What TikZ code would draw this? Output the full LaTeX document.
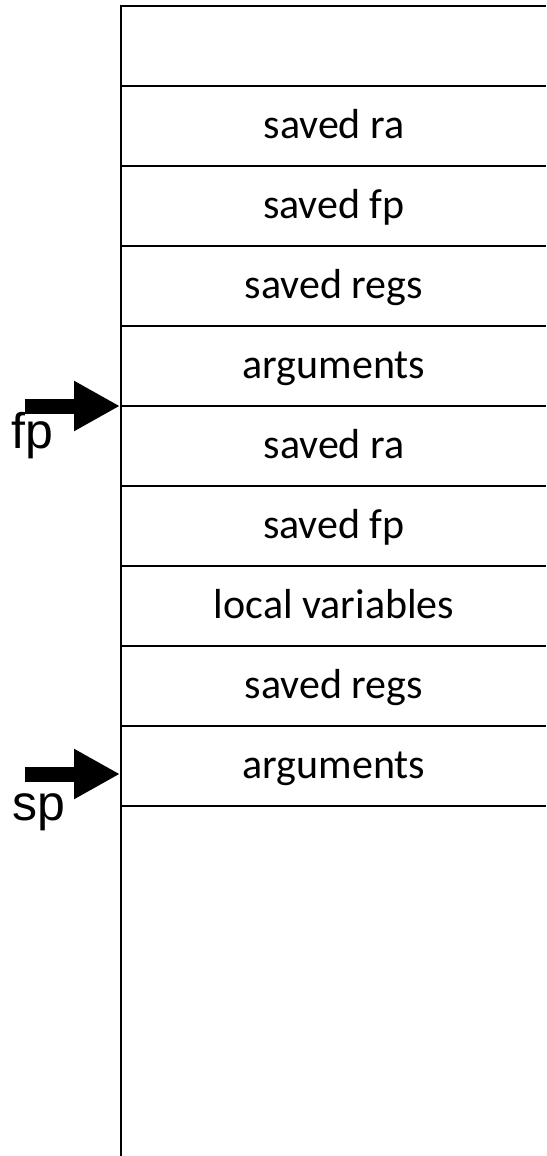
\documentclass[tikz,border=0pt]{standalone}
\usepackage{fontspec}
\setmainfont{Carlito}
\newfontfamily\arialfont{Liberation Sans}
\usetikzlibrary{arrows.meta}
\begin{document}
\begin{tikzpicture}[x=1pt,y=-1pt,
  cell/.style={font=\fontsize{42}{50}\selectfont, anchor=base, inner sep=0pt},
  ptr/.style={font=\arialfont\fontsize{50}{58}\selectfont, anchor=base west, inner sep=0pt},
  blockarrow/.style={line width=15pt, line cap=butt, -{Triangle[length=46pt,width=47pt]}},
  stackline/.style={line width=2pt},
  stackedge/.style={line width=2.6pt}]
\useasboundingbox (0,0) rectangle (546,1156);
% stack outline
\coordinate (stl) at (121,6);
\coordinate (str) at (546,6);
\coordinate (sbl) at (121,1156);
\draw[stackedge] (sbl) -- (stl) -- (str);
% separators
\foreach \y in {86,166,246,326,406,486,566,646,726,806}
  \draw[stackline] (121,\y) -- (546,\y);
% cell texts
\node[cell] (c1) at (334,138) {saved ra};
\node[cell] (c2) at (334,218) {saved fp};
\node[cell] (c3) at (334,298) {saved regs};
\node[cell] (c4) at (334,378) {arguments};
\node[cell] (c5) at (334,458) {saved ra};
\node[cell] (c6) at (334,538) {saved fp};
\node[cell] (c7) at (334,618) {local variables};
\node[cell] (c8) at (334,698) {saved regs};
\node[cell] (c9) at (334,778) {arguments};
% pointer labels
\node[ptr] (fplbl) at (11,448) {fp};
\node[ptr] (splbl) at (12,820) {sp};
% pointer arrows
\coordinate (fptail) at (25,406);
\coordinate (fptip) at (120,406);
\coordinate (sptail) at (25,774);
\coordinate (sptip) at (120,774);
\draw[blockarrow] (fptail) -- (fptip);
\draw[blockarrow] (sptail) -- (sptip);
\end{tikzpicture}
\end{document}
